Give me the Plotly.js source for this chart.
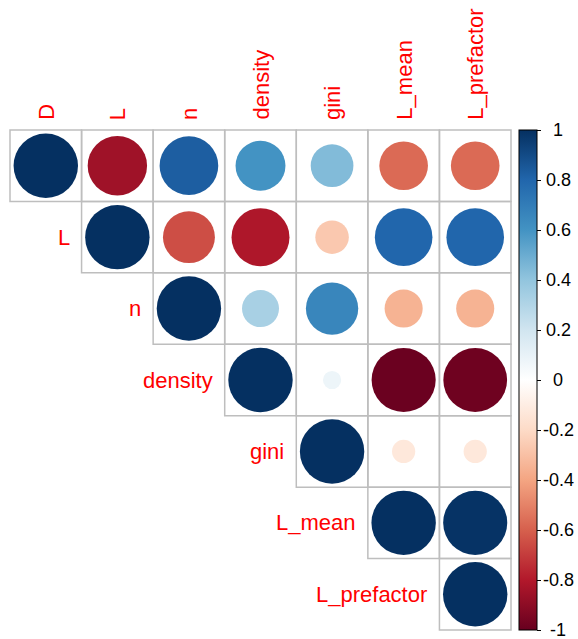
<!DOCTYPE html>
<html>
<head>
<meta charset="utf-8">
<script src="https://cdn.plot.ly/plotly-3.0.1.min.js"></script>
<style>html,body{margin:0;padding:0;background:#fff;}#chart{width:578px;height:639px;}</style>
</head>
<body>
<div id="chart"></div>
<script>
// Variable names (columns / rows of the correlation matrix)
const variables = ["D", "L", "n", "density", "gini", "L_mean", "L_prefactor"];

// Upper-triangle correlation rows (starting at the diagonal)
const rowD = [1, -0.85, 0.83, 0.60, 0.44, -0.57, -0.57];
const rowL = [1, -0.65, -0.81, -0.27, 0.80, 0.80];
const rowN = [1, 0.33, 0.66, -0.35, -0.35];
const rowDensity = [1, 0.08, -0.99, -0.98];
const rowGini = [1, -0.13, -0.13];
const rowLMean = [1, 0.99];
const rowLPrefactor = [1];

const colorbarTicks = [1, 0.8, 0.6, 0.4, 0.2, 0, -0.2, -0.4, -0.6, -0.8, -1];
const colorbarTickText = ["1", "0.8", "0.6", "0.4", "0.2", "0", "-0.2", "-0.4", "-0.6", "-0.8", "-1"];

const rows = [rowD, rowL, rowN, rowDensity, rowGini, rowLMean, rowLPrefactor];

// corrplot COL2('RdBu')
const rdbu = ["#67001F", "#B2182B", "#D6604D", "#F4A582", "#FDDBC7", "#FFFFFF",
              "#D1E5F0", "#92C5DE", "#4393C3", "#2166AC", "#053061"];
const colorscale = rdbu.map((c, k) => [k / (rdbu.length - 1), c]);

const W = 578, H = 639;
const gridL = 10, gridR = 511, gridT = 130, gridB = 630;
const n = variables.length;
const pxX = (gridR - gridL) / n, pxY = (gridB - gridT) / n;
const xRange = [-0.5 - gridL / pxX, n - 0.5 + (W - gridR) / pxX];
const yRange = [n - 0.5 + (H - gridB) / pxY, -0.5 - gridT / pxY];

const xs = [], ys = [], vals = [], sizes = [];
const shapes = [];
rows.forEach((row, i) => {
  row.forEach((v, k) => {
    const j = i + k;
    xs.push(j); ys.push(i); vals.push(v);
    sizes.push(0.9 * Math.sqrt(Math.abs(v)) * pxX);
    shapes.push({type: "rect", xref: "x", yref: "y", layer: "below",
      x0: j - 0.5, x1: j + 0.5, y0: i - 0.5, y1: i + 0.5,
      line: {color: "#BEBEBE", width: 1.5}, fillcolor: "rgba(0,0,0,0)"});
  });
});

const labelFont = {family: "Arial, Liberation Sans, sans-serif", size: 22, color: "#FF0000"};
const annotations = [];
variables.forEach((name, j) => {
  annotations.push({x: j, y: -0.5, xref: "x", yref: "y", text: name, showarrow: false,
    textangle: -90, xanchor: "center", yanchor: "bottom", yshift: 8, font: labelFont});
  if (j > 0) {
    annotations.push({x: j - 0.5, y: j, xref: "x", yref: "y", text: name, showarrow: false,
      xanchor: "right", yanchor: "middle", xshift: -10, font: labelFont});
  }
});

// Colorbar tick labels, centred like corrplot's legend
const cbBottom = (H - gridB) / H, cbLen = (gridB - gridT) / H;
colorbarTicks.forEach((v, k) => {
  annotations.push({x: 558 / W, y: cbBottom + (v + 1) / 2 * cbLen, xref: "paper", yref: "paper",
    text: colorbarTickText[k], showarrow: false, xanchor: "center", yanchor: "middle",
    font: {family: "Arial, Liberation Sans, sans-serif", size: 18, color: "#000"}});
});

const trace = {
  type: "scatter", mode: "markers", x: xs, y: ys, hoverinfo: "skip",
  marker: {
    size: sizes, sizemode: "diameter", color: vals, cmin: -1, cmax: 1,
    colorscale: colorscale, line: {width: 0}, opacity: 1,
    colorbar: {
      x: 519 / W, xanchor: "left", y: cbBottom, yanchor: "bottom",
      len: cbLen, lenmode: "fraction", thickness: 18, thicknessmode: "pixels",
      xpad: 0, ypad: 0, outlinewidth: 1, outlinecolor: "#000",
      tickmode: "array", tickvals: colorbarTicks, showticklabels: false,
      ticks: "outside", ticklen: 4, tickcolor: "#000", tickwidth: 1
    }
  }
};

const layout = {
  width: W, height: H,
  margin: {l: 0, r: 0, t: 0, b: 0, pad: 0, autoexpand: false},
  paper_bgcolor: "#fff", plot_bgcolor: "#fff",
  xaxis: {range: xRange, visible: false, fixedrange: true},
  yaxis: {range: yRange, visible: false, fixedrange: true},
  showlegend: false, shapes: shapes, annotations: annotations
};

Plotly.newPlot("chart", [trace], layout, {displayModeBar: false, staticPlot: true});
</script>
</body>
</html>
